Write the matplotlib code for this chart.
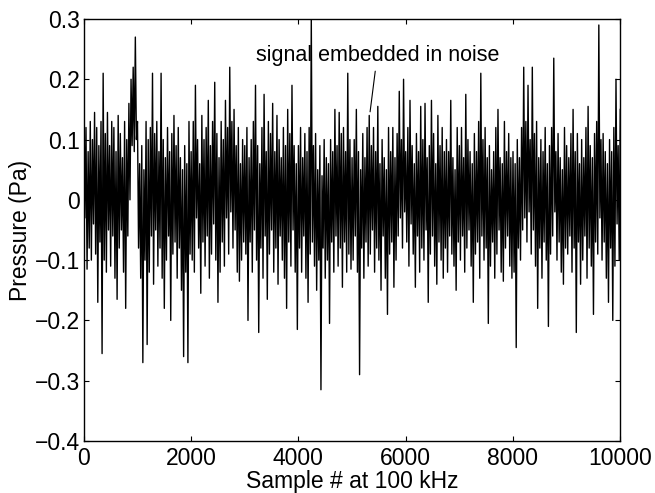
import matplotlib
matplotlib.use("Agg")
import matplotlib.pyplot as plt
import numpy as np
from matplotlib.ticker import FuncFormatter

# pressure: local highs at samples 0, 40, 80, ...
# and local lows at samples 20, 60, 100, ... (one block per 1000 samples)
upper_0 = [0.19, 0.12, 0.08, 0.13, 0.10, 0.145, 0.12, 0.09, 0.13, 0.21, 0.11, 0.145, 0.09,
           0.13, 0.12, 0.08, 0.14, 0.11, 0.07, 0.13, 0.10, 0.16, 0.20, 0.22, 0.27]
lower_0 = [-0.03, -0.115, -0.08, -0.10, -0.04, -0.09, -0.17, -0.07, -0.255, -0.10, -0.12, -0.05, -0.11,
           -0.06, -0.13, -0.165, -0.08, -0.05, -0.12, -0.18, -0.06, 0.0, 0.09, 0.08, 0.10]
upper_1 = [0.13, 0.06, 0.09, 0.05, 0.13, 0.10, 0.12, 0.21, 0.11, 0.13, 0.08, 0.21, 0.10,
           0.07, 0.12, 0.08, 0.11, 0.14, 0.09, 0.12, 0.07, 0.05, 0.09, 0.06, 0.13]
lower_1 = [-0.08, -0.13, -0.27, -0.10, -0.24, -0.12, -0.06, -0.14, -0.05, -0.11, -0.08, -0.13, -0.18,
           -0.10, -0.06, -0.20, -0.09, -0.07, -0.13, -0.08, -0.15, -0.26, -0.12, -0.27, -0.09]
upper_2 = [0.08, 0.13, 0.19, 0.10, 0.06, 0.14, 0.10, 0.12, 0.165, 0.09, 0.13, 0.195, 0.11,
           0.07, 0.13, 0.10, 0.165, 0.12, 0.22, 0.13, 0.15, 0.09, 0.12, 0.06, 0.10]
lower_2 = [-0.10, -0.12, -0.03, -0.08, -0.155, -0.07, -0.11, -0.06, -0.13, -0.09, -0.04, -0.10, -0.17,
           -0.12, -0.07, -0.11, -0.03, -0.09, -0.02, -0.08, -0.05, -0.12, -0.135, -0.10, -0.07]
upper_3 = [0.09, 0.12, 0.07, 0.10, 0.13, 0.19, 0.09, 0.06, 0.12, 0.175, 0.08, 0.13, 0.11,
           0.16, 0.08, 0.14, 0.10, 0.07, 0.12, 0.09, 0.15, 0.11, 0.19, 0.09, 0.06]
lower_3 = [-0.09, -0.20, -0.07, -0.12, -0.05, -0.10, -0.22, -0.08, -0.13, -0.06, -0.165, -0.09, -0.05,
           -0.12, -0.08, -0.14, -0.06, -0.10, -0.13, -0.18, -0.07, -0.11, -0.05, -0.12, -0.215]
upper_4 = [0.09, 0.12, 0.07, 0.11, 0.08, 0.12, 0.30, 0.09, 0.11, 0.05, 0.09, 0.04, 0.10,
           0.07, 0.06, 0.10, 0.08, 0.15, 0.09, 0.145, 0.11, 0.12, 0.08, 0.21, 0.10]
lower_4 = [-0.08, -0.12, -0.06, -0.13, -0.17, -0.09, -0.07, -0.11, -0.15, -0.10, -0.315, -0.08, -0.13,
           -0.10, -0.205, -0.07, -0.12, -0.06, -0.11, -0.08, -0.145, -0.07, -0.12, -0.09, -0.115]
upper_5 = [0.07, 0.10, 0.15, 0.08, 0.05, 0.11, 0.07, 0.12, 0.14, 0.09, 0.12, 0.08, 0.155,
           0.06, 0.10, 0.07, 0.05, 0.12, 0.08, 0.12, 0.07, 0.11, 0.18, 0.10, 0.20]
lower_5 = [-0.10, -0.06, -0.12, -0.29, -0.08, -0.13, -0.07, -0.11, -0.09, -0.05, -0.12, -0.08, -0.10,
           -0.15, -0.06, -0.13, -0.19, -0.09, -0.07, -0.145, -0.10, -0.06, -0.03, -0.08, -0.02]
upper_6 = [0.08, 0.12, 0.165, 0.09, 0.06, 0.11, 0.08, 0.155, 0.10, 0.16, 0.07, 0.09, 0.165,
           0.11, 0.06, 0.14, 0.09, 0.12, 0.08, 0.10, 0.08, 0.165, 0.07, 0.05, 0.12]
lower_6 = [-0.07, -0.11, -0.04, -0.09, -0.145, -0.06, -0.12, -0.08, -0.10, -0.05, -0.17, -0.09, -0.06,
           -0.11, -0.14, -0.07, -0.10, -0.13, -0.08, -0.12, -0.06, -0.09, -0.11, -0.15, -0.07]
upper_7 = [0.09, 0.12, 0.07, 0.175, 0.10, 0.08, 0.06, 0.11, 0.08, 0.13, 0.21, 0.10, 0.12,
           0.07, 0.09, 0.05, 0.08, 0.12, 0.15, 0.07, 0.06, 0.13, 0.08, 0.11, 0.07]
lower_7 = [-0.10, -0.06, -0.12, -0.08, -0.05, -0.11, -0.17, -0.09, -0.07, -0.13, -0.06, -0.10, -0.08,
           -0.205, -0.11, -0.07, -0.13, -0.09, -0.05, -0.12, -0.135, -0.08, -0.06, -0.11, -0.13]
upper_8 = [0.08, 0.06, 0.10, 0.07, 0.12, 0.22, 0.13, 0.19, 0.10, 0.22, 0.11, 0.13, 0.07,
           0.10, 0.08, 0.12, 0.06, 0.09, 0.12, 0.235, 0.08, 0.11, 0.07, 0.05, 0.12]
lower_8 = [-0.12, -0.245, -0.08, -0.10, -0.05, -0.03, -0.07, -0.02, -0.09, -0.05, -0.11, -0.18, -0.08,
           -0.13, -0.07, -0.10, -0.21, -0.09, -0.06, -0.02, -0.10, -0.07, -0.12, -0.14, -0.08]
upper_9 = [0.09, 0.07, 0.11, 0.15, 0.08, 0.11, 0.06, 0.10, 0.07, 0.12, 0.155, 0.09, 0.07,
           0.11, 0.13, 0.29, 0.10, 0.11, 0.08, 0.06, 0.10, 0.08, 0.12, 0.20, 0.09, 0.15]
lower_9 = [-0.09, -0.06, -0.12, -0.08, -0.22, -0.07, -0.14, -0.10, -0.06, -0.13, -0.08, -0.11, -0.19,
           -0.07, -0.09, -0.03, -0.10, -0.07, -0.13, -0.17, -0.08, -0.20, -0.11, -0.04, -0.10]

step = 20
x_ticks = [0, 2000, 4000, 6000, 8000, 10000]
y_ticks = [-0.4, -0.3, -0.2, -0.1, 0, 0.1, 0.2, 0.3]

up = (upper_0 + upper_1 + upper_2 + upper_3 + upper_4 + upper_5 + upper_6 + upper_7
      + upper_8 + upper_9)
lo = (lower_0 + lower_1 + lower_2 + lower_3 + lower_4 + lower_5 + lower_6 + lower_7
      + lower_8 + lower_9)
n = min(len(up) - 1, len(lo))
pressure = np.empty(2 * n + 1)
pressure[0::2] = up[:n + 1]
pressure[1::2] = lo[:n]
sample = np.arange(len(pressure)) * step

plt.rcParams["font.family"] = ["Liberation Sans", "DejaVu Sans"]

fig = plt.figure(figsize=(6.55, 4.93), dpi=100)
ax = fig.add_axes([0.128, 0.1055, 0.819, 0.856])
ax.plot(sample, pressure, color="black", lw=1.0)

ax.set_xlim(0, 10000)
ax.set_ylim(-0.4, 0.3)
ax.set_xticks(x_ticks)
ax.set_yticks(y_ticks)
ax.yaxis.set_major_formatter(FuncFormatter(lambda v, pos: f"{v:g}".replace("-", "\u2212")))
ax.tick_params(direction="in", top=True, right=True, length=3.6, width=0.8, labelsize=16.5)
ax.tick_params(axis="x", pad=4)
ax.tick_params(axis="y", pad=3)
for s in ax.spines.values():
    s.set_linewidth(1.0)

ax.set_xlabel("Sample # at 100 kHz", fontsize=16.5, labelpad=0)
ax.set_ylabel("Pressure (Pa)", fontsize=16.5, labelpad=2)

ax.annotate("signal embedded in noise", xy=(5336, 0.146), xytext=(5470, 0.24),
            fontsize=15.5, ha="center", va="center",
            arrowprops=dict(arrowstyle="-", lw=0.8, color="black", shrinkA=2, shrinkB=0))

fig.savefig("out.png", dpi=100)
